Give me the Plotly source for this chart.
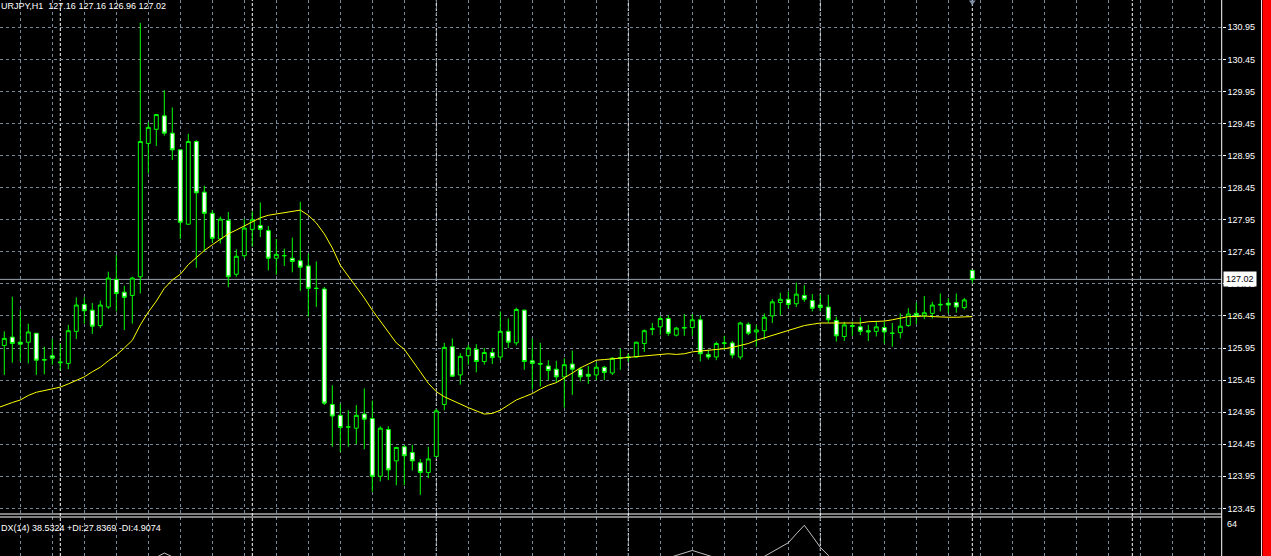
import plotly.graph_objects as go

# ---------------- data ----------------
# the window cuts off the first letter of both header texts, so only the visible part is kept
symbol_visible = "URJPY,H1"

opens = [
    125.99, 126.12, 126.04, 126.04, 126.18, 125.76, 125.83, 125.72, 125.71, 126.21,
    126.63, 126.54, 126.30, 126.59, 127.02, 126.82, 126.77, 127.06, 129.14, 129.36,
    129.57, 129.30, 129.04, 127.88, 129.17, 128.38, 128.05, 127.65, 127.94, 127.10,
    127.39, 127.80, 127.86, 127.78, 127.35, 127.39, 127.35, 127.31, 127.23, 126.88,
    126.87, 125.07, 124.90, 124.72, 124.70, 124.92, 124.85, 123.95, 124.68, 124.19,
    124.41, 124.32, 124.16, 124.01, 124.26, 125.07, 125.97, 125.53, 125.83, 125.93,
    125.74, 125.88, 125.81, 126.21, 126.03, 126.54, 125.75, 125.71, 125.67, 125.62,
    125.50, 125.70, 125.62, 125.54, 125.53, 125.65, 125.56, 125.79, 125.80, 125.81,
    126.02, 126.24, 126.28, 126.41, 126.15, 126.26, 126.27, 126.39, 125.85, 125.81,
    126.02, 126.03, 125.81, 126.32, 126.20, 126.22, 126.45, 126.66, 126.71, 126.64,
    126.77, 126.69, 126.62, 126.59, 126.38, 126.13, 126.30, 126.28, 126.22, 126.21,
    126.27, 126.18, 126.19, 126.30, 126.49, 126.45, 126.49, 126.62, 126.65, 126.66,
    126.58, 127.16,
]
highs = [
    126.21, 126.75, 126.55, 126.33, 126.18, 125.97, 126.09, 126.02, 126.31, 126.74,
    126.74, 126.65, 126.69, 127.14, 127.40, 126.92, 127.06, 131.02, 129.47, 129.60,
    129.97, 129.70, 129.05, 129.29, 129.19, 128.48, 128.10, 128.00, 128.07, 127.49,
    127.96, 128.08, 128.22, 127.85, 127.65, 127.50, 127.67, 128.23, 127.42, 127.30,
    126.90, 125.37, 125.08, 124.98, 125.06, 125.32, 125.13, 124.73, 124.73, 124.41,
    124.44, 124.44, 124.22, 124.41, 125.00, 126.03, 126.10, 125.87, 126.00, 126.01,
    125.95, 125.95, 126.52, 126.41, 126.58, 126.55, 126.10, 126.03, 125.76, 125.75,
    125.79, 125.91, 125.65, 125.67, 125.72, 125.67, 125.81, 125.94, 125.86, 126.05,
    126.24, 126.34, 126.45, 126.46, 126.28, 126.48, 126.48, 126.46, 125.92, 126.05,
    126.14, 126.06, 126.36, 126.35, 126.31, 126.49, 126.71, 126.81, 126.83, 126.97,
    126.93, 126.79, 126.78, 126.78, 126.44, 126.36, 126.36, 126.43, 126.31, 126.36,
    126.36, 126.34, 126.49, 126.57, 126.66, 126.76, 126.67, 126.80, 126.73, 126.80,
    126.73, 127.16,
]
lows = [
    125.53, 125.72, 125.74, 125.71, 125.53, 125.54, 125.69, 125.61, 125.62, 126.09,
    126.33, 126.17, 126.26, 126.56, 126.52, 126.23, 126.33, 126.80, 128.67, 129.10,
    129.26, 128.88, 127.65, 127.87, 127.20, 127.45, 127.59, 127.58, 126.90, 127.06,
    127.35, 127.53, 127.68, 127.16, 127.09, 127.23, 127.13, 126.84, 126.44, 126.59,
    125.06, 124.41, 124.33, 124.41, 124.45, 124.37, 123.71, 123.87, 123.89, 123.81,
    123.81, 124.04, 123.66, 123.92, 124.25, 124.98, 125.50, 125.38, 125.69, 125.57,
    125.69, 125.70, 125.76, 125.95, 125.99, 125.61, 125.30, 125.35, 125.45, 125.41,
    125.02, 125.22, 125.43, 125.39, 125.45, 125.45, 125.53, 125.61, 125.74, 125.80,
    125.89, 126.15, 126.15, 126.14, 126.13, 126.14, 126.14, 125.74, 125.77, 125.76,
    125.92, 125.79, 125.77, 126.15, 125.97, 126.08, 126.34, 126.46, 126.57, 126.59,
    126.67, 126.52, 126.52, 126.34, 126.05, 126.06, 126.14, 126.15, 126.06, 126.13,
    126.02, 125.97, 126.10, 126.28, 126.32, 126.40, 126.41, 126.52, 126.49, 126.50,
    126.55, 126.96,
]
closes = [
    126.10, 126.02, 126.01, 126.20, 125.76, 125.77, 125.79, 125.73, 126.22, 126.62,
    126.53, 126.29, 126.62, 127.04, 126.80, 126.74, 127.04, 129.17, 129.39, 129.59,
    129.30, 129.04, 127.91, 129.17, 128.37, 128.05, 127.66, 127.96, 127.06, 127.38,
    127.82, 127.95, 127.80, 127.35, 127.41, 127.39, 127.30, 127.21, 126.88, 126.88,
    125.09, 124.89, 124.71, 124.72, 124.90, 124.84, 123.95, 124.70, 124.05, 124.40,
    124.27, 124.19, 124.01, 124.22, 124.97, 125.96, 125.51, 125.82, 125.95, 125.74,
    125.88, 125.80, 126.21, 126.04, 126.55, 125.74, 125.71, 125.70, 125.60, 125.50,
    125.69, 125.62, 125.50, 125.51, 125.65, 125.57, 125.79, 125.80, 125.81, 126.04,
    126.22, 126.25, 126.41, 126.18, 126.26, 126.27, 126.39, 125.86, 125.81, 126.02,
    126.03, 125.84, 126.34, 126.18, 126.23, 126.43, 126.67, 126.71, 126.63, 126.79,
    126.71, 126.57, 126.58, 126.39, 126.14, 126.31, 126.29, 126.21, 126.20, 126.28,
    126.20, 126.18, 126.29, 126.48, 126.45, 126.50, 126.62, 126.63, 126.62, 126.59,
    126.70, 127.02,
]

# moving average (yellow), one value per bar starting one bar before the first visible bar
ma_values = [
    125.01,
    125.06, 125.10, 125.14, 125.21, 125.26, 125.29, 125.31, 125.34, 125.39, 125.45,
    125.50, 125.58, 125.65, 125.75, 125.84, 125.95, 126.07, 126.31, 126.51, 126.68,
    126.88, 127.01, 127.10, 127.25, 127.36, 127.47, 127.56, 127.64, 127.73, 127.79,
    127.85, 127.91, 127.98, 128.02, 128.04, 128.06, 128.09, 128.10, 128.02, 127.90,
    127.73, 127.51, 127.24, 127.07, 126.90, 126.73, 126.54, 126.37, 126.20, 126.03,
    125.93, 125.76, 125.58, 125.40, 125.27, 125.19, 125.13, 125.08, 125.02, 124.97,
    124.92, 124.93, 124.98, 125.06, 125.14, 125.19, 125.24, 125.31, 125.37, 125.41,
    125.48, 125.56, 125.64, 125.70, 125.76, 125.77, 125.78, 125.79, 125.80, 125.81,
    125.82, 125.84, 125.85, 125.86, 125.85, 125.86, 125.89, 125.90, 125.92, 125.93,
    125.94, 125.96, 125.99, 126.02, 126.07, 126.11, 126.15, 126.19, 126.23, 126.27,
    126.30, 126.32, 126.34, 126.34, 126.34, 126.34, 126.34, 126.34, 126.36, 126.36,
    126.37, 126.39, 126.42, 126.44, 126.44, 126.45, 126.44, 126.43, 126.43, 126.43,
    126.44, 126.44,
]

# ADX sub-window: only the tops of the line are visible
adx_bars = [19, 20, 21, None, 83, 84, 85, 86, 87, 88, 89, None,
            94, 95, 96, 97, 98, 99, 100, 101, 102, 103, 104]
adx_values = [39.1, 41.9, 39.5, None, 38.8, 40.3, 41.9, 43.5, 41.9, 40.3, 38.8, None,
              36.9, 39.8, 42.6, 45.4, 48.3, 53.9, 59.3, 52.5, 45.4, 40.4, 35.6]
adx_text_visible = "DX(14) 38.5324 +DI:27.8369 -DI:4.9074"
adx_max_label = "64"

day_separators = [7, 31, 54, 78, 102, 121, 141]

# ---------------- layout constants ----------------
W, H = 1271, 556
PLOT_RIGHT = 1221.7 / W
MAIN_BOTTOM = 1 - 514 / H
SUB_TOP = 1 - 517 / H
GRID = "#778899"
GREEN = "#00ff00"
FONT = "Liberation Sans, Arial, sans-serif"

bars = list(range(len(opens)))
ma_bars = list(range(-1, len(opens)))

fig = go.Figure()

fig.add_trace(go.Candlestick(
    x=bars, open=opens, high=highs, low=lows, close=closes,
    increasing=dict(line=dict(color=GREEN, width=1), fillcolor="black"),
    decreasing=dict(line=dict(color=GREEN, width=1), fillcolor="white"),
    whiskerwidth=0, hoverinfo="skip", xaxis="x", yaxis="y",
))

fig.add_trace(go.Scatter(
    x=ma_bars, y=ma_values, mode="lines",
    line=dict(color="#ffff00", width=1), hoverinfo="skip",
    xaxis="x", yaxis="y",
))

fig.add_trace(go.Scatter(
    x=[bars[-1]], y=[131.345], mode="markers",
    marker=dict(symbol="triangle-down", size=6, color="#7f8fa6"),
    hoverinfo="skip", xaxis="x", yaxis="y", cliponaxis=False,
))

fig.add_trace(go.Scatter(
    x=adx_bars, y=adx_values, mode="lines", connectgaps=False,
    line=dict(color="#c0c0c0", width=1), hoverinfo="skip",
    xaxis="x2", yaxis="y2",
))

x_range = [-0.5375, 152.175]
common_x = dict(
    range=x_range, showticklabels=False, ticks="", zeroline=False,
    showgrid=True, gridcolor=GRID, griddash="3px,3px", gridwidth=1,
    tick0=2, dtick=4, showline=False, fixedrange=True,
)

shapes = []
# day separators
for s in day_separators:
    shapes.append(dict(type="line", xref="x", yref="paper", x0=s, x1=s, y0=0, y1=1,
                       line=dict(color="white", width=1, dash="3px,2px"), layer="below"))
# bid line
shapes.append(dict(type="line", xref="paper", yref="y", x0=0, x1=PLOT_RIGHT,
                   y0=closes[-1], y1=closes[-1],
                   line=dict(color="#9aa4b0", width=1), layer="below"))
# panel separators
for yp in (MAIN_BOTTOM, SUB_TOP):
    shapes.append(dict(type="line", xref="paper", yref="paper", x0=0, x1=PLOT_RIGHT,
                       y0=yp, y1=yp, line=dict(color="white", width=1)))
# price axis line
shapes.append(dict(type="line", xref="paper", yref="paper", x0=PLOT_RIGHT, x1=PLOT_RIGHT,
                   y0=0, y1=1, line=dict(color="white", width=1)))
# right red strip
shapes.append(dict(type="line", xref="paper", yref="paper", x0=1261.5 / W, x1=1261.5 / W,
                   y0=0, y1=1, line=dict(color="#e0e0e0", width=1)))
shapes.append(dict(type="rect", xref="paper", yref="paper", x0=1262.5 / W, x1=1.0,
                   y0=0, y1=1, fillcolor="#ff0000", line=dict(width=0)))

annotations = [
    dict(xref="paper", yref="paper", x=0, y=1, xanchor="left", yanchor="top",
         xshift=-1, yshift=1, showarrow=False,
         text=f"{symbol_visible}\u00a0\u00a0{opens[-1]:.2f} {highs[-1]:.2f} {lows[-1]:.2f} {closes[-1]:.2f}",
         font=dict(family=FONT, size=9, color="white")),
    dict(xref="paper", yref="paper", x=0, y=1 - 521 / H, xanchor="left", yanchor="top",
         xshift=-1, showarrow=False, text=adx_text_visible,
         font=dict(family=FONT, size=9, color="white")),
    dict(xref="paper", yref="paper", x=1225 / W, y=SUB_TOP, xanchor="left", yanchor="top",
         showarrow=False, text=adx_max_label,
         font=dict(family=FONT, size=9, color="white")),
    dict(xref="paper", yref="y", x=PLOT_RIGHT, y=closes[-1], xanchor="left", yanchor="middle",
         xshift=1, showarrow=False, text=f"{closes[-1]:.2f}",
         bgcolor="white", borderpad=2,
         font=dict(family=FONT, size=9, color="black")),
]

fig.update_layout(
    width=W, height=H, margin=dict(l=0, r=0, t=0, b=0, pad=0),
    paper_bgcolor="black", plot_bgcolor="black", showlegend=False,
    dragmode=False, hovermode=False,
    xaxis=dict(domain=[0, PLOT_RIGHT], anchor="y", rangeslider=dict(visible=False), **common_x),
    xaxis2=dict(domain=[0, PLOT_RIGHT], anchor="y2", matches="x", **common_x),
    yaxis=dict(
        domain=[MAIN_BOTTOM, 1], anchor="x", side="right",
        range=[123.362, 131.376], tick0=123.45, dtick=0.5, tickformat=".2f",
        showgrid=True, gridcolor=GRID, griddash="3px,3px", gridwidth=1,
        ticks="outside", ticklen=3, tickcolor="white", tickwidth=1,
        tickfont=dict(family=FONT, size=9, color="white"),
        showline=False, zeroline=False, fixedrange=True,
    ),
    yaxis2=dict(
        domain=[0, SUB_TOP], anchor="x2", side="right", range=[40, 64.5],
        showticklabels=False, ticks="", showgrid=False, zeroline=False,
        showline=False, fixedrange=True,
    ),
    shapes=shapes, annotations=annotations,
)

fig.write_html(
    "out.html",
    config={"displayModeBar": False, "staticPlot": False},
    post_script="document.body.style.margin='0';document.body.style.background='black';document.body.style.overflow='hidden';",
)
